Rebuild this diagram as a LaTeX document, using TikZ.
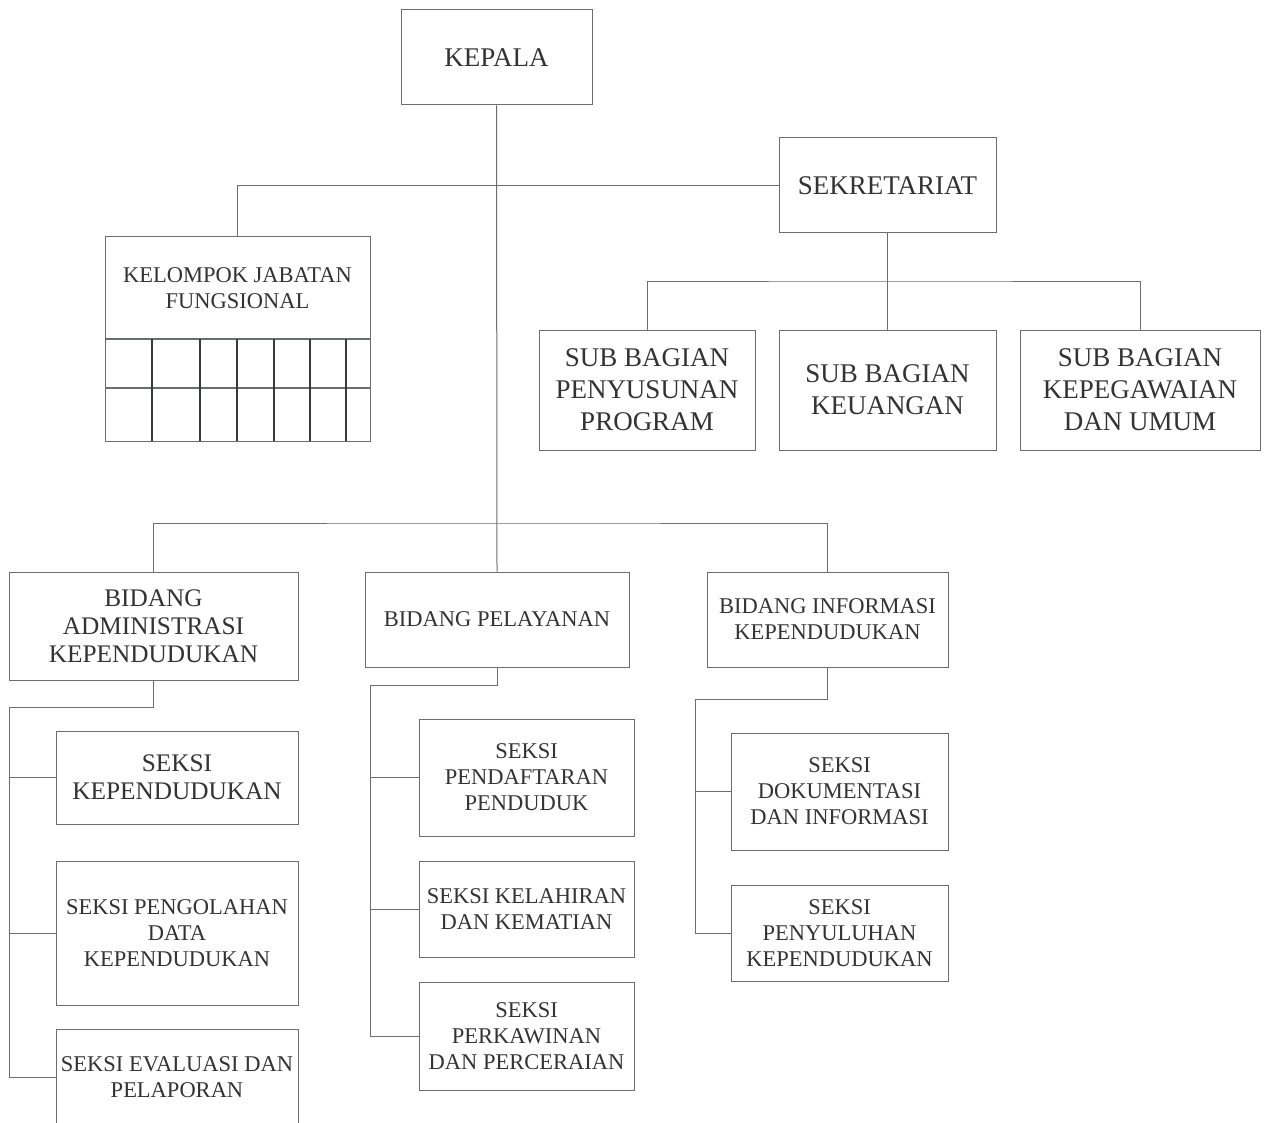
\documentclass[tikz,border=0pt]{standalone}
\usepackage{fontspec}
\setmainfont{Liberation Serif}
\begin{document}
\begin{tikzpicture}[x=1pt,y=-1pt,
  box/.style={draw=linec, line width=1pt, text=textc, align=center, inner sep=0pt, anchor=center},
  big/.style={font=\fontsize{27}{32}\selectfont},
  mid/.style={font=\fontsize{25.3}{28}\selectfont},
  sml/.style={font=\fontsize{22.5}{26}\selectfont},
  conn/.style={draw=linec, line width=1pt},
  gridv/.style={draw=gridc, line width=1.8pt},
  gridh/.style={draw=linec, line width=1.2pt}]
\definecolor{linec}{HTML}{6A6E70}
\definecolor{gridc}{HTML}{3A3A3A}
\definecolor{textc}{HTML}{333333}
\useasboundingbox (0,0) rectangle (1265,1123);
\clip (0,0) rectangle (1265,1123);
\fill[white] (0,0) rectangle (1265,1123);
% top level
\node[box,big,minimum width=191pt,minimum height=95pt] (kepala) at (496.5,57.5) {KEPALA};
\node[box,big,minimum width=217pt,minimum height=95pt] (sekr) at (887.5,185.5) {SEKRETARIAT};
\node[box,sml,minimum width=265pt,minimum height=102pt] (kjf) at (237.5,288) {KELOMPOK JABATAN\\FUNGSIONAL};
% grid under kelompok
\draw[conn] (105,339) rectangle (370,441);
\draw[gridh] (105,339) -- (370,339);
\draw[gridh] (105,388) -- (370,388);
\foreach \gx in {152,200,237,274,310,346} \draw[gridv] (\gx,339) -- (\gx,441);
% sub bagian
\node[box,big,minimum width=216pt,minimum height=120pt] (sb1) at (647,390) {SUB BAGIAN\\PENYUSUNAN\\PROGRAM};
\node[box,big,minimum width=217pt,minimum height=120pt] (sb2) at (887.5,390) {SUB BAGIAN\\KEUANGAN};
\node[box,big,minimum width=240pt,minimum height=120pt] (sb3) at (1140,390) {SUB BAGIAN\\KEPEGAWAIAN\\DAN UMUM};
% bidang
\node[box,mid,minimum width=289pt,minimum height=108pt] (bid1) at (153.5,626) {BIDANG\\ADMINISTRASI\\KEPENDUDUKAN};
\node[box,sml,minimum width=264pt,minimum height=95pt] (bid2) at (497,619.5) {BIDANG PELAYANAN};
\node[box,sml,minimum width=241pt,minimum height=95pt] (bid3) at (827.5,619.5) {BIDANG INFORMASI\\KEPENDUDUKAN};
% seksi admin
\node[box,mid,minimum width=242pt,minimum height=93pt] (s11) at (177,777.5) {SEKSI\\KEPENDUDUKAN};
\node[box,sml,minimum width=242pt,minimum height=144pt] (s12) at (177,933) {SEKSI PENGOLAHAN\\DATA\\KEPENDUDUKAN};
\node[box,sml,minimum width=242pt,minimum height=96pt] (s13) at (177,1077) {SEKSI EVALUASI DAN\\PELAPORAN};
% seksi pelayanan
\node[box,sml,minimum width=215pt,minimum height=117pt] (s21) at (526.5,777.5) {SEKSI\\PENDAFTARAN\\PENDUDUK};
\node[box,sml,minimum width=215pt,minimum height=96pt] (s22) at (526.5,909) {SEKSI KELAHIRAN\\DAN KEMATIAN};
\node[box,sml,minimum width=215pt,minimum height=108pt] (s23) at (526.5,1036) {SEKSI\\PERKAWINAN\\DAN PERCERAIAN};
% seksi informasi
\node[box,sml,minimum width=217pt,minimum height=117pt] (s31) at (839.5,791.5) {SEKSI\\DOKUMENTASI\\DAN INFORMASI};
\node[box,sml,minimum width=217pt,minimum height=96pt] (s32) at (839.5,933) {SEKSI\\PENYULUHAN\\KEPENDUDUKAN};
% helper coordinates
\coordinate (sbus) at (887.5,281);
\coordinate (bbus) at (497,523);
\coordinate (a1) at (9,707);
\coordinate (p1) at (370,685);
\coordinate (i1) at (695,699);
% connectors
\draw[conn] (kepala.south) -- (bid2.north);
\draw[conn] (sekr.west) -| (kjf.north);
\draw[conn] (sekr.south) -- (sb2.north);
\draw[conn] (sb1.north) |- (sbus) -| (sb3.north);
\draw[conn] (bid1.north) |- (bbus) -| (bid3.north);
\draw[conn] (bid1.south) |- (a1) |- (s13.west);
\draw[conn] (a1 |- s11.west) -- (s11.west);
\draw[conn] (a1 |- s12.west) -- (s12.west);
\draw[conn] (bid2.south) |- (p1) |- (s23.west);
\draw[conn] (p1 |- s21.west) -- (s21.west);
\draw[conn] (p1 |- s22.west) -- (s22.west);
\draw[conn] (bid3.south) |- (i1) |- (s32.west);
\draw[conn] (i1 |- s31.west) -- (s31.west);
\end{tikzpicture}
\end{document}
